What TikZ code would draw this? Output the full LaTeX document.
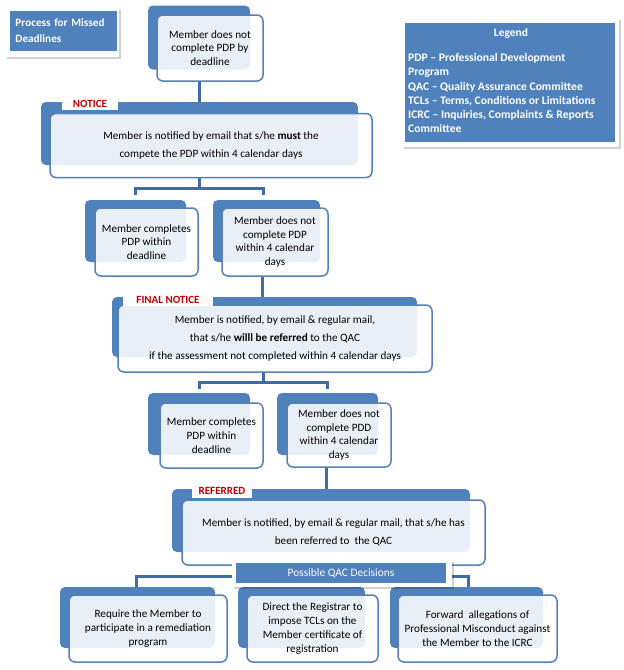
\documentclass[tikz,border=0pt]{standalone}
\usepackage{fontspec}
\setmainfont{Carlito}
\usetikzlibrary{calc}
\definecolor{bblue}{HTML}{4F81BD}
\definecolor{lblue}{HTML}{416CA3}
\definecolor{fblue}{HTML}{5581BA}
\definecolor{nred}{HTML}{C00000}
\pgfdeclarelayer{bg}\pgfdeclarelayer{mid}\pgfsetlayers{bg,mid,main}
\begin{document}
\begin{tikzpicture}[x=1pt,y=-1pt,
  back/.style={fill=bblue, rounded corners=5pt, inner sep=0pt},
  front/.style={draw=fblue, line width=1.5pt, fill=white, fill opacity=0.88, text opacity=1,
    rounded corners=6pt, inner sep=0pt, align=center, text=black,
    font=\fontsize{11.2}{13.8}\selectfont},
  conn/.style={draw=lblue, line width=3pt},
  tab/.style={fill=white, inner sep=0pt, text=nred, font=\bfseries\fontsize{11}{12}\selectfont},
  frm/.style={fill=white, inner sep=0pt},
  shd/.style={fill=black, opacity=0.18, inner sep=0pt},
  bluebox/.style={fill=bblue, inner sep=0pt, text=white}
]
\useasboundingbox (0,0) rectangle (624,670);
\begin{pgfonlayer}{bg}
\fill[white] (0,0) rectangle (624,670);
\end{pgfonlayer}

% ---------- title ----------
\node[shd, minimum width=114, minimum height=49] (titleS) at (63.5,34) {};
\node[frm, minimum width=114, minimum height=49] (titleF) at (62,32.5) {};
\node[bluebox, minimum width=107, minimum height=40, text width=95, align=left,
  font=\bfseries\fontsize{11.2}{16}\selectfont] (title) at (63,31) {Process for Missed\\Deadlines};

% ---------- legend ----------
\node[shd, minimum width=217, minimum height=129] (legS) at (512,84) {};
\node[frm, minimum width=217, minimum height=129] (legF) at (510.5,82.5) {};
\node[bluebox, minimum width=210, minimum height=119] (leg) at (510,82.5) {};
\node[text=white, font=\bfseries\fontsize{11.5}{12}\selectfont] (legT) at (511,33) {Legend};
\node[text=white, anchor=north west, align=left, inner sep=0pt,
  font=\bfseries\fontsize{11.6}{14}\selectfont] (legX) at (408,53)
  {PDP – Professional Development\\Program\\[1.5pt]QAC – Quality Assurance Committee\\TCLs – Terms, Conditions or Limitations\\ICRC – Inquiries, Complaints \& Reports\\Committee};

% ---------- boxes ----------
\node[front, minimum width=106, minimum height=66] (top) at (210,48)
  {Member does not\\complete PDP by\\deadline};
\node[front, minimum width=322, minimum height=64] (notice) at (211,145.5)
  {Member is notified by email that s/he \textbf{must} the\\[5pt]compete the PDP within 4 calendar days};
\node[front, minimum width=103, minimum height=68] (r2l) at (146.5,242)
  {Member completes\\PDP within\\deadline};
\node[front, minimum width=106, minimum height=68] (r2r) at (275,242)
  {Member does not\\complete PDP\\within 4 calendar\\days};
\node[front, minimum width=314, minimum height=67] (final) at (275,338.5)
  {Member is notified, by email \& regular mail,\\[4pt]that s/he \textbf{willl be referred} to the QAC\\[4pt]if the assessment not completed within 4 calendar days};
\node[front, minimum width=103, minimum height=65] (r4l) at (211.5,435.5)
  {Member completes\\PDP within\\deadline};
\node[front, minimum width=104, minimum height=64] (r4r) at (339,435)
  {Member does not\\complete PDD\\within 4 calendar\\days};
\node[front, minimum width=303, minimum height=65] (ref) at (333.5,532.5)
  {Member is notified, by email \& regular mail, that s/he has\\[4pt]been referred to\ \ the QAC};
\node[front, minimum width=158, minimum height=67] (b1) at (148,628.5)
  {Require the Member to\\participate in a remediation\\program};
\node[front, minimum width=131, minimum height=67] (b2) at (312.5,628.5)
  {Direct the Registrar to\\impose TCLs on the\\Member certificate of\\registration};
\node[front, minimum width=159, minimum height=67] (b3) at (477.5,628.5)
  {Forward\ \ allegations of\\Professional Misconduct against\\the Member to the ICRC};

% ---------- back boxes ----------
\begin{pgfonlayer}{mid}
\node[back, minimum width=102, minimum height=64] (topB) at (199,37.5) {};
\node[back, minimum width=317, minimum height=63] (noticeB) at (199.5,133.5) {};
\node[back, minimum width=101, minimum height=62] (r2lB) at (135.5,231) {};
\node[back, minimum width=107, minimum height=62] (r2rB) at (266.5,231) {};
\node[back, minimum width=305, minimum height=60] (finalB) at (264.5,327) {};
\node[back, minimum width=102, minimum height=62] (r4lB) at (199,424) {};
\node[back, minimum width=101, minimum height=62] (r4rB) at (327.5,424) {};
\node[back, minimum width=298, minimum height=63] (refB) at (321,520.5) {};
\node[back, minimum width=155, minimum height=61] (b1B) at (137.5,617.5) {};
\node[back, minimum width=127, minimum height=61] (b2B) at (301.5,617.5) {};
\node[back, minimum width=153, minimum height=61] (b3B) at (466.5,617.5) {};
\end{pgfonlayer}

% ---------- tabs ----------
\node[tab, minimum width=56, minimum height=13] (noticeT) at (90,103.5) {NOTICE};
\node[tab, minimum width=90, minimum height=13] (finalT) at (168,299.5) {FINAL NOTICE};
\node[tab, minimum width=60, minimum height=14] (refT) at (222,491) {REFERRED};

% ---------- possible decisions ----------
\node[shd, minimum width=220, minimum height=27] (possS) at (343.5,575) {};
\node[frm, minimum width=220, minimum height=27] (possF) at (342,573.5) {};
\node[bluebox, minimum width=210, minimum height=20,
  font=\fontsize{11.4}{12}\selectfont] (poss) at (341,573) {Possible QAC Decisions};

% ---------- connectors ----------
\coordinate (v1) at (199,0);
\coordinate (v2) at (262,0);
\coordinate (v3) at (326,0);
\coordinate (br1) at (199,188);
\coordinate (bl1) at (135,0);
\coordinate (bl2) at (263,0);
\coordinate (br2) at (263,382);
\coordinate (bl3) at (199,0);
\coordinate (bl4) at (327,0);
\coordinate (br3) at (341,576);
\coordinate (bl5) at (136,0);
\coordinate (bl6) at (468,0);
\begin{pgfonlayer}{bg}
\draw[conn] (top.south -| v1) -- (noticeB.north -| v1);
\draw[conn] (notice.south -| br1) -- (br1);
\draw[conn] ([yshift=5pt]r2lB.north -| bl1) |- (br1) -| ([yshift=5pt]r2rB.north -| bl2);
\draw[conn] (r2r.south -| v2) -- (finalB.north -| v2);
\draw[conn] (final.south -| br2) -- (br2);
\draw[conn] ([yshift=4pt]r4lB.north -| bl3) |- (br2) -| ([yshift=4pt]r4rB.north -| bl4);
\draw[conn] (r4r.south -| v3) -- (refB.north -| v3);
\draw[conn] (ref.south -| v3) -- (poss.north -| v3);
\draw[conn] (b1B.north -| bl5) |- (br3) -| (b3B.north -| bl6);
\draw[conn] (br3) -- (b2B.north -| br3);
\end{pgfonlayer}
\end{tikzpicture}
\end{document}
